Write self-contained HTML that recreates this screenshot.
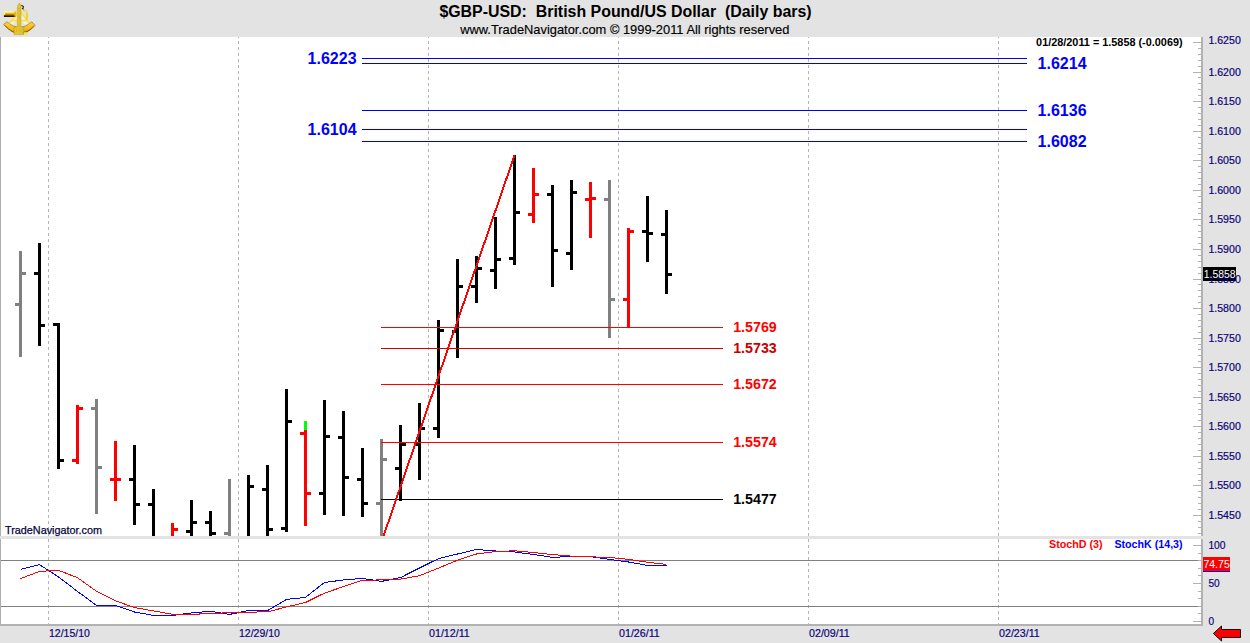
<!DOCTYPE html><html><head><meta charset="utf-8"><title>$GBP-USD: British Pound/US Dollar (Daily bars)</title>
<style>html,body{margin:0;padding:0;background:#e3e3e3;overflow:hidden}svg{display:block}text{font-family:"Liberation Sans",Arial,sans-serif}</style></head><body>
<svg width="1250" height="643" viewBox="0 0 1250 643">
<rect x="0" y="0" width="1250" height="643" fill="#e3e3e3"/>
<g shape-rendering="crispEdges">
<rect x="0" y="37" width="1201" height="499" fill="#fff"/>
<rect x="0" y="539" width="1201" height="85" fill="#fff"/>
<rect x="0" y="37" width="1" height="499" fill="#adadad"/>
<rect x="0" y="539" width="1" height="86" fill="#adadad"/>
<rect x="1201" y="37" width="2" height="499" fill="#b2b2b2"/>
<rect x="1201" y="539" width="2" height="86" fill="#b2b2b2"/>
<line x1="48.5" y1="37" x2="48.5" y2="624" stroke="#b4b4b4" stroke-width="1" stroke-dasharray="3 3" stroke-dashoffset="2"/>
<line x1="238.5" y1="37" x2="238.5" y2="624" stroke="#b4b4b4" stroke-width="1" stroke-dasharray="3 3" stroke-dashoffset="2"/>
<line x1="428.5" y1="37" x2="428.5" y2="624" stroke="#b4b4b4" stroke-width="1" stroke-dasharray="3 3" stroke-dashoffset="2"/>
<line x1="618.5" y1="37" x2="618.5" y2="624" stroke="#b4b4b4" stroke-width="1" stroke-dasharray="3 3" stroke-dashoffset="2"/>
<line x1="808.5" y1="37" x2="808.5" y2="624" stroke="#b4b4b4" stroke-width="1" stroke-dasharray="3 3" stroke-dashoffset="2"/>
<line x1="998.5" y1="37" x2="998.5" y2="624" stroke="#b4b4b4" stroke-width="1" stroke-dasharray="3 3" stroke-dashoffset="2"/>
<rect x="1193" y="42" width="8" height="1" fill="#b2b2b2"/>
<rect x="1198" y="48" width="3" height="1" fill="#b2b2b2"/>
<rect x="1198" y="54" width="3" height="1" fill="#b2b2b2"/>
<rect x="1198" y="60" width="3" height="1" fill="#b2b2b2"/>
<rect x="1198" y="66" width="3" height="1" fill="#b2b2b2"/>
<rect x="1193" y="72" width="8" height="1" fill="#b2b2b2"/>
<rect x="1198" y="77" width="3" height="1" fill="#b2b2b2"/>
<rect x="1198" y="83" width="3" height="1" fill="#b2b2b2"/>
<rect x="1198" y="89" width="3" height="1" fill="#b2b2b2"/>
<rect x="1198" y="95" width="3" height="1" fill="#b2b2b2"/>
<rect x="1193" y="101" width="8" height="1" fill="#b2b2b2"/>
<rect x="1198" y="107" width="3" height="1" fill="#b2b2b2"/>
<rect x="1198" y="113" width="3" height="1" fill="#b2b2b2"/>
<rect x="1198" y="119" width="3" height="1" fill="#b2b2b2"/>
<rect x="1198" y="125" width="3" height="1" fill="#b2b2b2"/>
<rect x="1193" y="131" width="8" height="1" fill="#b2b2b2"/>
<rect x="1198" y="137" width="3" height="1" fill="#b2b2b2"/>
<rect x="1198" y="143" width="3" height="1" fill="#b2b2b2"/>
<rect x="1198" y="148" width="3" height="1" fill="#b2b2b2"/>
<rect x="1198" y="154" width="3" height="1" fill="#b2b2b2"/>
<rect x="1193" y="160" width="8" height="1" fill="#b2b2b2"/>
<rect x="1198" y="166" width="3" height="1" fill="#b2b2b2"/>
<rect x="1198" y="172" width="3" height="1" fill="#b2b2b2"/>
<rect x="1198" y="178" width="3" height="1" fill="#b2b2b2"/>
<rect x="1198" y="184" width="3" height="1" fill="#b2b2b2"/>
<rect x="1193" y="190" width="8" height="1" fill="#b2b2b2"/>
<rect x="1198" y="196" width="3" height="1" fill="#b2b2b2"/>
<rect x="1198" y="202" width="3" height="1" fill="#b2b2b2"/>
<rect x="1198" y="208" width="3" height="1" fill="#b2b2b2"/>
<rect x="1198" y="213" width="3" height="1" fill="#b2b2b2"/>
<rect x="1193" y="219" width="8" height="1" fill="#b2b2b2"/>
<rect x="1198" y="225" width="3" height="1" fill="#b2b2b2"/>
<rect x="1198" y="231" width="3" height="1" fill="#b2b2b2"/>
<rect x="1198" y="237" width="3" height="1" fill="#b2b2b2"/>
<rect x="1198" y="243" width="3" height="1" fill="#b2b2b2"/>
<rect x="1193" y="249" width="8" height="1" fill="#b2b2b2"/>
<rect x="1198" y="255" width="3" height="1" fill="#b2b2b2"/>
<rect x="1198" y="261" width="3" height="1" fill="#b2b2b2"/>
<rect x="1198" y="267" width="3" height="1" fill="#b2b2b2"/>
<rect x="1198" y="273" width="3" height="1" fill="#b2b2b2"/>
<rect x="1193" y="279" width="8" height="1" fill="#b2b2b2"/>
<rect x="1198" y="284" width="3" height="1" fill="#b2b2b2"/>
<rect x="1198" y="290" width="3" height="1" fill="#b2b2b2"/>
<rect x="1198" y="296" width="3" height="1" fill="#b2b2b2"/>
<rect x="1198" y="302" width="3" height="1" fill="#b2b2b2"/>
<rect x="1193" y="308" width="8" height="1" fill="#b2b2b2"/>
<rect x="1198" y="314" width="3" height="1" fill="#b2b2b2"/>
<rect x="1198" y="320" width="3" height="1" fill="#b2b2b2"/>
<rect x="1198" y="326" width="3" height="1" fill="#b2b2b2"/>
<rect x="1198" y="332" width="3" height="1" fill="#b2b2b2"/>
<rect x="1193" y="338" width="8" height="1" fill="#b2b2b2"/>
<rect x="1198" y="344" width="3" height="1" fill="#b2b2b2"/>
<rect x="1198" y="349" width="3" height="1" fill="#b2b2b2"/>
<rect x="1198" y="355" width="3" height="1" fill="#b2b2b2"/>
<rect x="1198" y="361" width="3" height="1" fill="#b2b2b2"/>
<rect x="1193" y="367" width="8" height="1" fill="#b2b2b2"/>
<rect x="1198" y="373" width="3" height="1" fill="#b2b2b2"/>
<rect x="1198" y="379" width="3" height="1" fill="#b2b2b2"/>
<rect x="1198" y="385" width="3" height="1" fill="#b2b2b2"/>
<rect x="1198" y="391" width="3" height="1" fill="#b2b2b2"/>
<rect x="1193" y="397" width="8" height="1" fill="#b2b2b2"/>
<rect x="1198" y="403" width="3" height="1" fill="#b2b2b2"/>
<rect x="1198" y="409" width="3" height="1" fill="#b2b2b2"/>
<rect x="1198" y="414" width="3" height="1" fill="#b2b2b2"/>
<rect x="1198" y="420" width="3" height="1" fill="#b2b2b2"/>
<rect x="1193" y="426" width="8" height="1" fill="#b2b2b2"/>
<rect x="1198" y="432" width="3" height="1" fill="#b2b2b2"/>
<rect x="1198" y="438" width="3" height="1" fill="#b2b2b2"/>
<rect x="1198" y="444" width="3" height="1" fill="#b2b2b2"/>
<rect x="1198" y="450" width="3" height="1" fill="#b2b2b2"/>
<rect x="1193" y="456" width="8" height="1" fill="#b2b2b2"/>
<rect x="1198" y="462" width="3" height="1" fill="#b2b2b2"/>
<rect x="1198" y="468" width="3" height="1" fill="#b2b2b2"/>
<rect x="1198" y="474" width="3" height="1" fill="#b2b2b2"/>
<rect x="1198" y="480" width="3" height="1" fill="#b2b2b2"/>
<rect x="1193" y="485" width="8" height="1" fill="#b2b2b2"/>
<rect x="1198" y="491" width="3" height="1" fill="#b2b2b2"/>
<rect x="1198" y="497" width="3" height="1" fill="#b2b2b2"/>
<rect x="1198" y="503" width="3" height="1" fill="#b2b2b2"/>
<rect x="1198" y="509" width="3" height="1" fill="#b2b2b2"/>
<rect x="1193" y="515" width="8" height="1" fill="#b2b2b2"/>
<rect x="1198" y="521" width="3" height="1" fill="#b2b2b2"/>
<rect x="1198" y="527" width="3" height="1" fill="#b2b2b2"/>
<rect x="1198" y="533" width="3" height="1" fill="#b2b2b2"/>
<rect x="1193" y="621" width="8" height="1" fill="#b2b2b2"/>
<rect x="1198" y="613" width="3" height="1" fill="#b2b2b2"/>
<rect x="1198" y="606" width="3" height="1" fill="#b2b2b2"/>
<rect x="1198" y="598" width="3" height="1" fill="#b2b2b2"/>
<rect x="1198" y="591" width="3" height="1" fill="#b2b2b2"/>
<rect x="1193" y="583" width="8" height="1" fill="#b2b2b2"/>
<rect x="1198" y="575" width="3" height="1" fill="#b2b2b2"/>
<rect x="1198" y="568" width="3" height="1" fill="#b2b2b2"/>
<rect x="1198" y="560" width="3" height="1" fill="#b2b2b2"/>
<rect x="1198" y="553" width="3" height="1" fill="#b2b2b2"/>
<rect x="1193" y="545" width="8" height="1" fill="#b2b2b2"/>
<rect x="1" y="560" width="1197" height="1" fill="#808080"/>
<rect x="1" y="606" width="1197" height="1" fill="#808080"/>
<rect x="362" y="58" width="665" height="1" fill="#0000f0"/>
<rect x="362" y="63" width="665" height="1" fill="#0000f0"/>
<rect x="362" y="110" width="665" height="1" fill="#0000f0"/>
<rect x="362" y="129" width="665" height="1" fill="#0000f0"/>
<rect x="362" y="141" width="665" height="1" fill="#0000f0"/>
<rect x="19" y="251" width="3" height="106" fill="#808080"/>
<rect x="15" y="303" width="4" height="3" fill="#808080"/>
<rect x="22" y="272" width="4" height="3" fill="#808080"/>
<rect x="38" y="243" width="3" height="103" fill="#000000"/>
<rect x="34" y="272" width="4" height="3" fill="#000000"/>
<rect x="41" y="324" width="4" height="3" fill="#000000"/>
<rect x="57" y="323" width="3" height="146" fill="#000000"/>
<rect x="53" y="323" width="4" height="3" fill="#000000"/>
<rect x="60" y="459" width="4" height="3" fill="#000000"/>
<rect x="76" y="405" width="3" height="59" fill="#ff0000"/>
<rect x="72" y="459" width="4" height="3" fill="#ff0000"/>
<rect x="79" y="407" width="4" height="3" fill="#ff0000"/>
<rect x="95" y="399" width="3" height="115" fill="#808080"/>
<rect x="91" y="407" width="4" height="3" fill="#808080"/>
<rect x="98" y="466" width="4" height="3" fill="#808080"/>
<rect x="114" y="441" width="3" height="60" fill="#ff0000"/>
<rect x="110" y="478" width="4" height="3" fill="#ff0000"/>
<rect x="117" y="478" width="4" height="3" fill="#ff0000"/>
<rect x="133" y="445" width="3" height="80" fill="#000000"/>
<rect x="129" y="478" width="4" height="3" fill="#000000"/>
<rect x="136" y="503" width="4" height="3" fill="#000000"/>
<rect x="152" y="489" width="3" height="47" fill="#000000"/>
<rect x="148" y="503" width="4" height="3" fill="#000000"/>
<rect x="171" y="523" width="3" height="13" fill="#ff0000"/>
<rect x="174" y="528" width="4" height="3" fill="#ff0000"/>
<rect x="190" y="500" width="3" height="36" fill="#000000"/>
<rect x="186" y="530" width="4" height="3" fill="#000000"/>
<rect x="193" y="521" width="4" height="3" fill="#000000"/>
<rect x="209" y="511" width="3" height="25" fill="#000000"/>
<rect x="205" y="521" width="4" height="3" fill="#000000"/>
<rect x="212" y="532" width="4" height="3" fill="#000000"/>
<rect x="228" y="479" width="3" height="57" fill="#808080"/>
<rect x="224" y="532" width="4" height="3" fill="#808080"/>
<rect x="247" y="475" width="3" height="61" fill="#000000"/>
<rect x="250" y="485" width="4" height="3" fill="#000000"/>
<rect x="266" y="465" width="3" height="71" fill="#000000"/>
<rect x="262" y="488" width="4" height="3" fill="#000000"/>
<rect x="269" y="528" width="4" height="3" fill="#000000"/>
<rect x="285" y="389" width="3" height="143" fill="#000000"/>
<rect x="281" y="527" width="4" height="3" fill="#000000"/>
<rect x="288" y="420" width="4" height="3" fill="#000000"/>
<rect x="304" y="421" width="3" height="105" fill="#ff0000"/>
<rect x="300" y="432" width="4" height="3" fill="#ff0000"/>
<rect x="307" y="492" width="4" height="3" fill="#ff0000"/>
<rect x="304" y="421" width="3" height="9" fill="#00ff00"/>
<rect x="323" y="400" width="3" height="115" fill="#000000"/>
<rect x="319" y="492" width="4" height="3" fill="#000000"/>
<rect x="326" y="435" width="4" height="3" fill="#000000"/>
<rect x="342" y="411" width="3" height="105" fill="#000000"/>
<rect x="338" y="436" width="4" height="3" fill="#000000"/>
<rect x="345" y="476" width="4" height="3" fill="#000000"/>
<rect x="361" y="448" width="3" height="69" fill="#000000"/>
<rect x="357" y="478" width="4" height="3" fill="#000000"/>
<rect x="364" y="502" width="4" height="3" fill="#000000"/>
<rect x="380" y="439" width="3" height="97" fill="#808080"/>
<rect x="376" y="502" width="4" height="3" fill="#808080"/>
<rect x="383" y="458" width="4" height="3" fill="#808080"/>
<rect x="399" y="425" width="3" height="76" fill="#000000"/>
<rect x="395" y="467" width="4" height="3" fill="#000000"/>
<rect x="402" y="443" width="4" height="3" fill="#000000"/>
<rect x="418" y="403" width="3" height="77" fill="#000000"/>
<rect x="414" y="443" width="4" height="3" fill="#000000"/>
<rect x="421" y="427" width="4" height="3" fill="#000000"/>
<rect x="437" y="320" width="3" height="118" fill="#000000"/>
<rect x="433" y="427" width="4" height="3" fill="#000000"/>
<rect x="440" y="329" width="4" height="3" fill="#000000"/>
<rect x="456" y="259" width="3" height="99" fill="#000000"/>
<rect x="452" y="330" width="4" height="3" fill="#000000"/>
<rect x="459" y="285" width="4" height="3" fill="#000000"/>
<rect x="475" y="256" width="3" height="47" fill="#000000"/>
<rect x="471" y="285" width="4" height="3" fill="#000000"/>
<rect x="478" y="267" width="4" height="3" fill="#000000"/>
<rect x="494" y="217" width="3" height="72" fill="#000000"/>
<rect x="490" y="269" width="4" height="3" fill="#000000"/>
<rect x="497" y="258" width="4" height="3" fill="#000000"/>
<rect x="513" y="155" width="3" height="110" fill="#000000"/>
<rect x="509" y="257" width="4" height="3" fill="#000000"/>
<rect x="516" y="211" width="4" height="3" fill="#000000"/>
<rect x="532" y="168" width="3" height="55" fill="#ff0000"/>
<rect x="528" y="213" width="4" height="3" fill="#ff0000"/>
<rect x="535" y="193" width="4" height="3" fill="#ff0000"/>
<rect x="551" y="185" width="3" height="102" fill="#000000"/>
<rect x="547" y="193" width="4" height="3" fill="#000000"/>
<rect x="554" y="249" width="4" height="3" fill="#000000"/>
<rect x="570" y="180" width="3" height="90" fill="#000000"/>
<rect x="566" y="252" width="4" height="3" fill="#000000"/>
<rect x="573" y="191" width="4" height="3" fill="#000000"/>
<rect x="589" y="182" width="3" height="56" fill="#ff0000"/>
<rect x="585" y="198" width="4" height="3" fill="#ff0000"/>
<rect x="592" y="197" width="4" height="3" fill="#ff0000"/>
<rect x="608" y="180" width="3" height="158" fill="#808080"/>
<rect x="604" y="198" width="4" height="3" fill="#808080"/>
<rect x="611" y="298" width="4" height="3" fill="#808080"/>
<rect x="627" y="228" width="3" height="99" fill="#ff0000"/>
<rect x="623" y="298" width="4" height="3" fill="#ff0000"/>
<rect x="630" y="230" width="4" height="3" fill="#ff0000"/>
<rect x="646" y="196" width="3" height="66" fill="#000000"/>
<rect x="642" y="230" width="4" height="3" fill="#000000"/>
<rect x="649" y="232" width="4" height="3" fill="#000000"/>
<rect x="665" y="210" width="3" height="84" fill="#000000"/>
<rect x="661" y="233" width="4" height="3" fill="#000000"/>
<rect x="668" y="273" width="4" height="3" fill="#000000"/>
<rect x="381" y="327" width="342" height="1" fill="#ff0000"/>
<rect x="381" y="348" width="342" height="1" fill="#d00000"/>
<rect x="381" y="384" width="342" height="1" fill="#ff0000"/>
<rect x="381" y="442" width="342" height="1" fill="#ff0000"/>
<rect x="381" y="499" width="342" height="1" fill="#000000"/>
<line x1="383.2" y1="537" x2="514.6" y2="155" stroke="#ff0000" stroke-width="1.9"/>
<rect x="0" y="536" width="1250" height="3" fill="#e3e3e3"/>
<polyline points="20.5,569.4 39.5,564.6 58.5,577.0 77.5,591.4 96.5,605.4 115.5,605.4 134.5,612.0 153.5,615.4 172.5,615.4 191.5,613.0 210.5,611.2 229.5,614.4 248.5,610.6 267.5,610.6 286.5,599.4 305.5,597.4 324.5,582.4 343.5,580.0 362.5,578.4 381.5,581.4 400.5,577.6 419.5,568.0 438.5,558.6 457.5,554.0 476.5,549.5 495.5,551.0 514.5,552.0 533.5,554.4 552.5,557.4 571.5,556.4 590.5,556.6 609.5,559.4 628.5,562.0 647.5,565.4 666.5,565.4" fill="none" stroke="#0000ff" stroke-width="1"/>
<polyline points="20.5,578.6 39.5,571.4 58.5,570.3 77.5,577.7 96.5,591.3 115.5,600.7 134.5,607.6 153.5,610.9 172.5,614.3 191.5,614.6 210.5,613.2 229.5,612.9 248.5,612.1 267.5,611.9 286.5,606.9 305.5,602.5 324.5,593.1 343.5,586.6 362.5,580.3 381.5,579.9 400.5,579.1 419.5,575.7 438.5,568.1 457.5,560.2 476.5,554.0 495.5,551.5 514.5,550.8 533.5,552.5 552.5,554.6 571.5,556.1 590.5,556.8 609.5,557.5 628.5,559.3 647.5,562.3 666.5,564.4" fill="none" stroke="#ff0000" stroke-width="1"/>
<rect x="0" y="624" width="1203" height="2" fill="#b2b2b2"/>
<rect x="1203" y="267" width="33" height="14" fill="#000"/>
<rect x="1203" y="557" width="27" height="14" fill="#ff0000"/>
<rect x="1203" y="571" width="27" height="1" fill="#0000ff"/>
</g>
<polygon points="1213.4,633.5 1221.5,626 1221.5,629.5 1240.5,629.5 1240.5,637.5 1221.5,637.5 1221.5,641" fill="#ff0000" stroke="#101010" stroke-width="1" stroke-linejoin="miter"/>
<text x="1208.4" y="44.0" font-size="11" fill="#0e0478" stroke="#0e0478" stroke-width="0.2" textLength="32.4" lengthAdjust="spacingAndGlyphs">1.6250</text>
<text x="1208.4" y="75.6" font-size="11" fill="#0e0478" stroke="#0e0478" stroke-width="0.2" textLength="32.4" lengthAdjust="spacingAndGlyphs">1.6200</text>
<text x="1208.4" y="105.1" font-size="11" fill="#0e0478" stroke="#0e0478" stroke-width="0.2" textLength="32.4" lengthAdjust="spacingAndGlyphs">1.6150</text>
<text x="1208.4" y="134.7" font-size="11" fill="#0e0478" stroke="#0e0478" stroke-width="0.2" textLength="32.4" lengthAdjust="spacingAndGlyphs">1.6100</text>
<text x="1208.4" y="164.3" font-size="11" fill="#0e0478" stroke="#0e0478" stroke-width="0.2" textLength="32.4" lengthAdjust="spacingAndGlyphs">1.6050</text>
<text x="1208.4" y="193.8" font-size="11" fill="#0e0478" stroke="#0e0478" stroke-width="0.2" textLength="32.4" lengthAdjust="spacingAndGlyphs">1.6000</text>
<text x="1208.4" y="223.4" font-size="11" fill="#0e0478" stroke="#0e0478" stroke-width="0.2" textLength="32.4" lengthAdjust="spacingAndGlyphs">1.5950</text>
<text x="1208.4" y="252.9" font-size="11" fill="#0e0478" stroke="#0e0478" stroke-width="0.2" textLength="32.4" lengthAdjust="spacingAndGlyphs">1.5900</text>
<text x="1208.4" y="282.5" font-size="11" fill="#0e0478" stroke="#0e0478" stroke-width="0.2" textLength="32.4" lengthAdjust="spacingAndGlyphs">1.5850</text>
<text x="1208.4" y="312.1" font-size="11" fill="#0e0478" stroke="#0e0478" stroke-width="0.2" textLength="32.4" lengthAdjust="spacingAndGlyphs">1.5800</text>
<text x="1208.4" y="341.6" font-size="11" fill="#0e0478" stroke="#0e0478" stroke-width="0.2" textLength="32.4" lengthAdjust="spacingAndGlyphs">1.5750</text>
<text x="1208.4" y="371.2" font-size="11" fill="#0e0478" stroke="#0e0478" stroke-width="0.2" textLength="32.4" lengthAdjust="spacingAndGlyphs">1.5700</text>
<text x="1208.4" y="400.8" font-size="11" fill="#0e0478" stroke="#0e0478" stroke-width="0.2" textLength="32.4" lengthAdjust="spacingAndGlyphs">1.5650</text>
<text x="1208.4" y="430.3" font-size="11" fill="#0e0478" stroke="#0e0478" stroke-width="0.2" textLength="32.4" lengthAdjust="spacingAndGlyphs">1.5600</text>
<text x="1208.4" y="459.9" font-size="11" fill="#0e0478" stroke="#0e0478" stroke-width="0.2" textLength="32.4" lengthAdjust="spacingAndGlyphs">1.5550</text>
<text x="1208.4" y="489.4" font-size="11" fill="#0e0478" stroke="#0e0478" stroke-width="0.2" textLength="32.4" lengthAdjust="spacingAndGlyphs">1.5500</text>
<text x="1208.4" y="519.0" font-size="11" fill="#0e0478" stroke="#0e0478" stroke-width="0.2" textLength="32.4" lengthAdjust="spacingAndGlyphs">1.5450</text>
<text x="1208.4" y="549.0" font-size="11" fill="#0e0478" stroke="#0e0478" stroke-width="0.2" textLength="17.2" lengthAdjust="spacingAndGlyphs">100</text>
<text x="1208.4" y="587.0" font-size="11" fill="#0e0478" stroke="#0e0478" stroke-width="0.2" textLength="11.2" lengthAdjust="spacingAndGlyphs">50</text>
<text x="1208.4" y="625.0" font-size="11" fill="#0e0478" stroke="#0e0478" stroke-width="0.2" textLength="5.6" lengthAdjust="spacingAndGlyphs">0</text>
<text x="1203.8" y="278" font-size="11" fill="#fff" textLength="31.8" lengthAdjust="spacingAndGlyphs">1.5858</text>
<text x="1203.4" y="568" font-size="11" fill="#fff" textLength="26.4" lengthAdjust="spacingAndGlyphs">74.75</text>
<text x="49" y="637" font-size="11" fill="#0e0478" stroke="#0e0478" stroke-width="0.2" textLength="40.8" lengthAdjust="spacingAndGlyphs">12/15/10</text>
<text x="239" y="637" font-size="11" fill="#0e0478" stroke="#0e0478" stroke-width="0.2" textLength="40.8" lengthAdjust="spacingAndGlyphs">12/29/10</text>
<text x="429" y="637" font-size="11" fill="#0e0478" stroke="#0e0478" stroke-width="0.2" textLength="40.8" lengthAdjust="spacingAndGlyphs">01/12/11</text>
<text x="619" y="637" font-size="11" fill="#0e0478" stroke="#0e0478" stroke-width="0.2" textLength="40.8" lengthAdjust="spacingAndGlyphs">01/26/11</text>
<text x="809" y="637" font-size="11" fill="#0e0478" stroke="#0e0478" stroke-width="0.2" textLength="40.8" lengthAdjust="spacingAndGlyphs">02/09/11</text>
<text x="999" y="637" font-size="11" fill="#0e0478" stroke="#0e0478" stroke-width="0.2" textLength="40.8" lengthAdjust="spacingAndGlyphs">02/23/11</text>
<text x="439.4" y="17" font-size="16" font-weight="bold" fill="#000" textLength="372.2" lengthAdjust="spacingAndGlyphs" xml:space="preserve">$GBP-USD:  British Pound/US Dollar  (Daily bars)</text>
<text x="460.2" y="34" font-size="13" fill="#000" stroke="#000" stroke-width="0.15" textLength="329.2" lengthAdjust="spacingAndGlyphs">www.TradeNavigator.com © 1999-2011 All rights reserved</text>
<text x="1036.1" y="46" font-size="11" font-weight="bold" fill="#000" textLength="146.5" lengthAdjust="spacingAndGlyphs">01/28/2011 = 1.5858 (-0.0069)</text>
<text x="5" y="534.3" font-size="11" fill="#05053c" stroke="#05053c" stroke-width="0.25" textLength="97" lengthAdjust="spacingAndGlyphs">TradeNavigator.com</text>
<text x="307.6" y="64.0" font-size="16" font-weight="bold" fill="#0000ff">1.6223</text>
<text x="307.6" y="135.0" font-size="16" font-weight="bold" fill="#0000ff">1.6104</text>
<text x="1037.6" y="69.0" font-size="16" font-weight="bold" fill="#0000ff">1.6214</text>
<text x="1037.6" y="116.0" font-size="16" font-weight="bold" fill="#0000ff">1.6136</text>
<text x="1037.6" y="147.0" font-size="16" font-weight="bold" fill="#0000ff">1.6082</text>
<text x="733.2" y="332.0" font-size="15" font-weight="bold" fill="#ff0000" textLength="43.6" lengthAdjust="spacingAndGlyphs">1.5769</text>
<text x="733.2" y="353.0" font-size="15" font-weight="bold" fill="#c80000" textLength="43.6" lengthAdjust="spacingAndGlyphs">1.5733</text>
<text x="733.2" y="389.0" font-size="15" font-weight="bold" fill="#ff0000" textLength="43.6" lengthAdjust="spacingAndGlyphs">1.5672</text>
<text x="733.2" y="447.0" font-size="15" font-weight="bold" fill="#ff0000" textLength="43.6" lengthAdjust="spacingAndGlyphs">1.5574</text>
<text x="733.2" y="504.0" font-size="15" font-weight="bold" fill="#000" textLength="43.6" lengthAdjust="spacingAndGlyphs">1.5477</text>
<text x="1049" y="548" font-size="11" font-weight="bold" fill="#ff0000" textLength="53.6" lengthAdjust="spacingAndGlyphs">StochD (3)</text>
<text x="1114.4" y="548" font-size="11" font-weight="bold" fill="#0000ff" textLength="68.2" lengthAdjust="spacingAndGlyphs">StochK (14,3)</text>
<defs>
<linearGradient id="tg" x1="0" y1="0" x2="0" y2="1"><stop offset="0" stop-color="#fffbd0"/><stop offset="0.3" stop-color="#ffe23a"/><stop offset="0.55" stop-color="#c88c08"/><stop offset="0.85" stop-color="#3a2400"/><stop offset="1" stop-color="#100800"/></linearGradient>
<linearGradient id="ag" x1="0" y1="0" x2="1" y2="0"><stop offset="0" stop-color="#f6b91c"/><stop offset="0.45" stop-color="#dccb30"/><stop offset="1" stop-color="#c8c030"/></linearGradient>
<linearGradient id="rg" x1="0" y1="0" x2="0" y2="1"><stop offset="0" stop-color="#ffd634"/><stop offset="0.7" stop-color="#f0b418"/><stop offset="1" stop-color="#8a6200"/></linearGradient>
</defs>
<g>
<path d="M9.5,23.5 L17,15 L17,21 L12.5,24.5 Z M22,15 L28.5,23 L25,24.5 L21.5,21 Z" fill="#f4f4f0" opacity="0.75"/>
<path d="M3.6,24.6 L6.8,21.8 Q19.5,33 31.8,21.8 L35.2,25.4 Q19.5,42.6 3.6,24.6 Z" fill="url(#rg)" stroke="#6e4e00" stroke-width="0.5"/>
<path d="M5.2,25.6 Q19.5,41 33.8,26" stroke="#5a3c00" stroke-width="0.8" fill="none" opacity="0.7"/>
<path d="M18.6,12 L9.4,23.4 M20.8,12 L29.2,23 M11,20.6 L27.4,20.6" stroke="#fbe23c" stroke-width="1.7" fill="none"/>
<path d="M23,9.8 L26.4,11.6 L27.2,16 L26.4,20" stroke="#f0cc28" stroke-width="1.7" fill="none"/>
<path d="M24.6,10.6 L26.8,12.6" stroke="#fff6b0" stroke-width="0.8"/>
<path d="M19.6,2.8 L21,5.6 L21,9 L20.9,26.6 L23.8,27.6 L23.8,34.6 L14,34.6 L14,27.6 L17.3,26.6 L17.3,8 L17.8,5 Z" fill="url(#ag)" stroke="#a88c10" stroke-width="0.35"/>
<path d="M18,6 L18,33" stroke="#f8b420" stroke-width="0.9" opacity="0.85"/>
<path d="M19.2,8 L19.2,12 M19.4,15 L19.4,19 M19,24 L19,27 M20.2,29.5 L20.2,31.5 M16.5,29 L16.5,32" stroke="#f0a020" stroke-width="0.7" opacity="0.8"/>
<path d="M21.4,5.2 L23.4,6.6 L23,8.8 L22,8.2" stroke="#33260a" stroke-width="1.1" fill="none"/>
<rect x="3.9" y="11" width="12" height="6" fill="url(#tg)"/>
<rect x="3.9" y="11.4" width="1.2" height="3.4" fill="#fff2a0"/>
<rect x="14.4" y="11.4" width="1.8" height="5.4" fill="#eab414"/>
<rect x="24" y="32.2" width="3.2" height="2.7" fill="#f4e44a"/>
</g>
</svg></body></html>
